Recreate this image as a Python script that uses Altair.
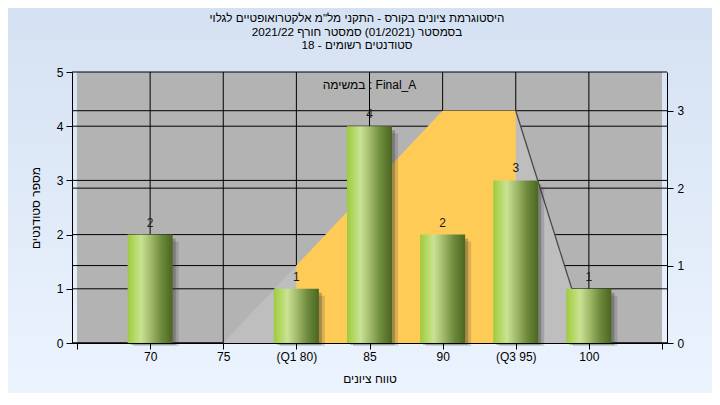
import altair as alt
import pandas as pd

# ---- data ----
grades = [70, 75, 80, 85, 90, 95, 100]
grade_labels = ["70", "75", "(Q1 80)", "85", "90", "(Q3 95)", "100"]
counts = [2, 0, 1, 4, 2, 3, 1]
curve_x = [75, 80, 85, 90, 95, 100]
curve_y = [0, 1, 2, 3, 3, 0]
q1, q3 = 80, 95
x_min, x_max = 65, 105
left_ticks = [0, 1, 2, 3, 4, 5]
right_ticks = [0, 1, 2, 3]
right_max = 3.5
title_lines = [
    "היסטוגרמת ציונים בקורס - התקני מל\"מ אלקטרואופטיים לגלוי",
    "בסמסטר  (01/2021)  סמסטר חורף  2021/22",
    "סטודנטים רשומים - 18",
]
task_text = "במשימה : Final_A"
x_title = "טווח ציונים"
y_title = "מספר סטודנטים"

FONT = "Liberation Sans"
W, H = 595, 271

bars_df = pd.DataFrame({"g": grades, "c": counts})
curve_df = pd.DataFrame({"g": curve_x, "v": curve_y})
one = pd.DataFrame({"a": [0]})

parts = [f"datum.value == {g} ? '{lab}' : " for g, lab in zip(grades, grade_labels)]
label_expr = "".join(parts) + "''"

xs = alt.Scale(domain=[x_min, x_max], nice=False, zero=False)
yl = alt.Scale(domain=[0, 5], nice=False)
yr = alt.Scale(domain=[0, right_max], nice=False)

x_axis = alt.Axis(values=[x_min] + grades + [x_max], labelExpr=label_expr,
                  grid=False, tickSize=6, tickColor="black", domainColor="black",
                  labelColor="black", labelFontSize=12, labelFont=FONT, labelPadding=2,
                  title=x_title, titleFont=FONT, titleFontSize=12, titleFontWeight="normal",
                  titleColor="black", titlePadding=11, zindex=1)
left_axis = alt.Axis(values=left_ticks, grid=False, tickSize=6, tickColor="black",
                     domainColor="black", labelColor="black", labelFontSize=12,
                     labelFont=FONT, labelPadding=3, title=y_title, titleFont=FONT,
                     titleFontSize=12, titleFontWeight="normal", titleColor="black",
                     titlePadding=14, zindex=1)
right_axis = alt.Axis(orient="right", values=right_ticks, grid=False, tickSize=6, tickColor="black",
                      domainColor="black", labelColor="black", labelFontSize=12, labelFont=FONT,
                      labelPadding=4, title=None, zindex=1)

X = lambda: alt.X("g:Q", scale=xs, axis=x_axis)

# ---- group A: background, plot fill, grid (left scale) ----
bg = alt.Chart(one).mark_rect(
    fill=alt.LinearGradient(gradient="linear", x1=0, x2=0, y1=0, y2=1,
                            stops=[alt.GradientStop(offset=0, color="#D4E1F2"),
                                   alt.GradientStop(offset=1, color="#ECF4FE")]),
).encode(x=alt.value(-70), x2=alt.value(W + 60), y=alt.value(-70), y2=alt.value(H + 60))

plot_bg = alt.Chart(one).mark_rect(color="#B3B3B3").encode(
    x=alt.datum(x_min, scale=xs, axis=x_axis), x2=alt.datum(x_max),
    y=alt.datum(0, scale=yl, axis=left_axis), y2=alt.datum(5),
)
vgrid = alt.Chart(pd.DataFrame({"g": grades})).mark_rule(color="black", strokeWidth=1).encode(x=X())
hgrid_l = alt.Chart(pd.DataFrame({"v": left_ticks})).mark_rule(color="black", strokeWidth=1).encode(
    y=alt.Y("v:Q", scale=yl, axis=left_axis))
group_a = alt.layer(bg, plot_bg, vgrid, hgrid_l)

# ---- group R: right scale grid + curve areas ----
YR = lambda: alt.Y("v:Q", scale=yr, axis=right_axis)
hgrid_r = alt.Chart(pd.DataFrame({"v": right_ticks})).mark_rule(color="black", strokeWidth=1).encode(y=YR())
area_all = alt.Chart(curve_df).mark_area(color="#BEBEBE").encode(x=X(), y=YR())
area_iqr = alt.Chart(curve_df).transform_filter(
    f"datum.g >= {q1} && datum.g <= {q3}").mark_area(color="#FECB57").encode(x=X(), y=YR())
tail_line = alt.Chart(curve_df).transform_filter(f"datum.g >= {q3}").mark_line(
    color="#4A4A4A", strokeWidth=1.3).encode(x=X(), y=YR())
group_r = alt.layer(hgrid_r, area_all, area_iqr, tail_line)

# ---- group B: bars, labels, texts ----
green = alt.LinearGradient(gradient="linear", x1=0, x2=1, y1=0, y2=0, stops=[
    alt.GradientStop(offset=0.0, color="#9CCB3E"),
    alt.GradientStop(offset=0.15, color="#B5D866"),
    alt.GradientStop(offset=0.3, color="#C9E294"),
    alt.GradientStop(offset=0.5, color="#A4BC6E"),
    alt.GradientStop(offset=0.75, color="#6E8A3C"),
    alt.GradientStop(offset=1.0, color="#4A6620"),
])
bbase = alt.Chart(bars_df).transform_filter("datum.c > 0")
YB = lambda: alt.Y("c:Q", scale=yl, axis=None)
shadow2 = bbase.mark_bar(color="#333333", opacity=0.18, size=45, xOffset=6, yOffset=7, y2Offset=3).encode(
    x=X(), y=YB(), y2=alt.datum(0))
shadow1 = bbase.mark_bar(color="#333333", opacity=0.3, size=45, xOffset=3, yOffset=4, y2Offset=2).encode(
    x=X(), y=YB(), y2=alt.datum(0))
bars = bbase.mark_bar(fill=green, size=45).encode(x=X(), y=YB(), y2=alt.datum(0))
labels = bbase.mark_text(font=FONT, fontSize=12, color="#1A1A1A", baseline="middle", dy=-12).encode(
    x=X(), y=YB(), text="c:Q")
task = alt.Chart(one).mark_text(font=FONT, fontSize=12, color="black", baseline="middle").encode(
    x=alt.value(W / 2), y=alt.value(13), text=alt.value(task_text))
title = alt.Chart(one).mark_text(font=FONT, fontSize=11.7, color="black", baseline="middle",
                                 align="center", lineHeight=13.5).encode(
    x=alt.value(285), y=alt.value(-54), text=alt.value(title_lines))
group_b = alt.layer(shadow2, shadow1, bars, labels, task, title)

chart = alt.layer(group_a, group_r, group_b).resolve_scale(y="independent").properties(
    width=W, height=H,
    autosize=alt.AutoSizeParams(type="none"),
    padding={"left": 64, "top": 64, "right": 45, "bottom": 50},
).configure_view(stroke="black", strokeWidth=1)

chart.save("out.html", embed_options={"renderer": "svg", "actions": False})
